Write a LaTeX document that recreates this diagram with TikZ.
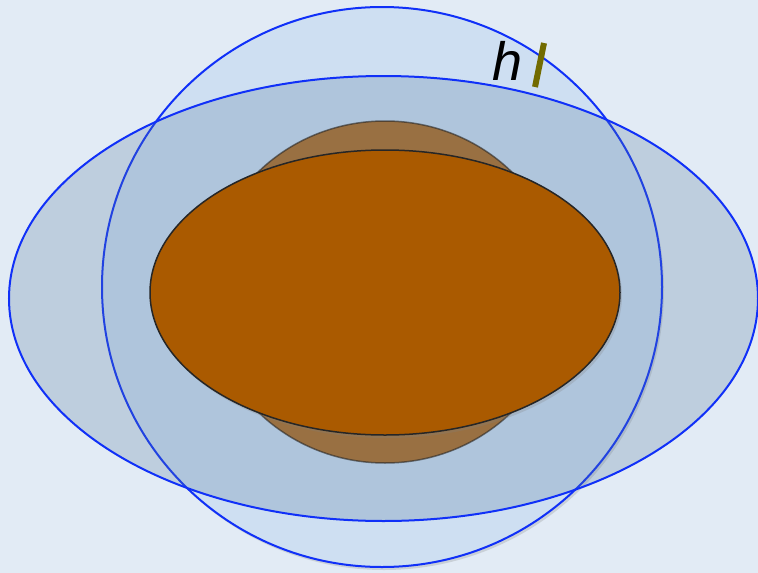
\documentclass[tikz,border=0pt]{standalone}
\usepackage{fontspec}
\setmainfont{Liberation Sans}
\usetikzlibrary{shadows}
\definecolor{pagebg}{HTML}{E2EBF5}
\definecolor{shellblue}{HTML}{1030F8}
\definecolor{roundfill}{HTML}{CEDFF2}
\definecolor{flatfill}{HTML}{567B9D}
\definecolor{corefill}{HTML}{945B1C}
\definecolor{bodyfill}{HTML}{AA5A00}
\definecolor{tickolive}{HTML}{726B00}
\tikzset{shell/.style={draw=shellblue,line width=2pt},core/.style={draw=black!85,line width=1.5pt},soft shade/.style={drop shadow={opacity=.25,shadow xshift=2pt,shadow yshift=-3pt}}}

\begin{document}
\begin{tikzpicture}[x=1pt,y=-1pt]
\path[use as bounding box,fill=pagebg] (0,0) rectangle (758,573);
\path[shell,soft shade,fill=roundfill] (382,287) ellipse [x radius=280,y radius=280];
\path[shell,fill=flatfill,fill opacity=.25] (383.5,298.5) ellipse [x radius=374.5,y radius=222.5];
\path[core,fill=corefill,fill opacity=.8,draw opacity=.6] (385,292) ellipse [x radius=178,y radius=171];
\path[core,soft shade,fill=bodyfill] (385,292.5) ellipse [x radius=235,y radius=142.5];
\draw[tickolive,line width=6pt,soft shade] (535,87) -- (544,43);
\node[anchor=center,inner sep=0pt,font=\fontsize{54}{58}\itshape] (hlabel) at (508,61) {h};
\end{tikzpicture}
\end{document}
